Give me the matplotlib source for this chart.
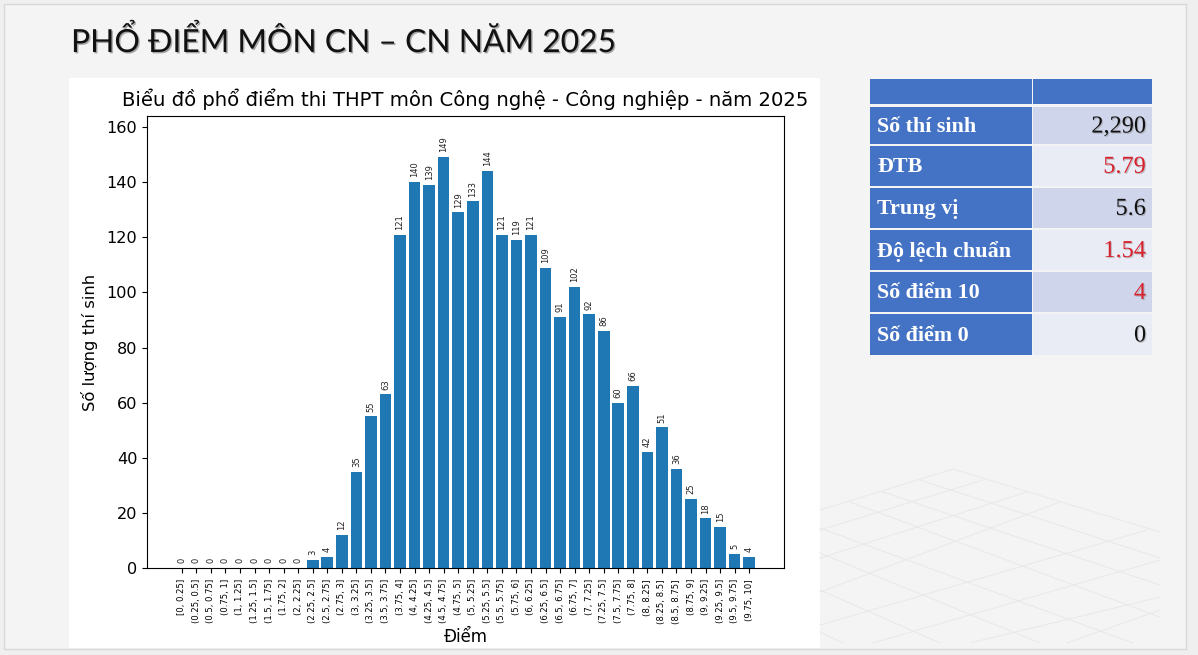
import matplotlib
matplotlib.use("Agg")
import matplotlib.pyplot as plt
import matplotlib.patheffects as pe
from matplotlib.patches import Rectangle

W, H = 1198, 655

bin_labels = ["[0, 0.25]", "(0.25, 0.5]", "(0.5, 0.75]", "(0.75, 1]", "(1, 1.25]", "(1.25, 1.5]",
              "(1.5, 1.75]", "(1.75, 2]", "(2, 2.25]", "(2.25, 2.5]", "(2.5, 2.75]", "(2.75, 3]",
              "(3, 3.25]", "(3.25, 3.5]", "(3.5, 3.75]", "(3.75, 4]", "(4, 4.25]", "(4.25, 4.5]",
              "(4.5, 4.75]", "(4.75, 5]", "(5, 5.25]", "(5.25, 5.5]", "(5.5, 5.75]", "(5.75, 6]",
              "(6, 6.25]", "(6.25, 6.5]", "(6.5, 6.75]", "(6.75, 7]", "(7, 7.25]", "(7.25, 7.5]",
              "(7.5, 7.75]", "(7.75, 8]", "(8, 8.25]", "(8.25, 8.5]", "(8.5, 8.75]", "(8.75, 9]",
              "(9, 9.25]", "(9.25, 9.5]", "(9.5, 9.75]", "(9.75, 10]"]
counts = [0, 0, 0, 0, 0, 0, 0, 0, 0, 3, 4, 12, 35, 55, 63, 121, 140, 139, 149, 129,
          133, 144, 121, 119, 121, 109, 91, 102, 92, 86, 60, 66, 42, 51, 36, 25, 18, 15, 5, 4]
stat_names = ["Số thí sinh", "ĐTB", "Trung vị", "Độ lệch chuẩn", "Số điểm 10", "Số điểm 0"]
stat_values = ["2,290", "5.79", "5.6", "1.54", "4", "0"]
stat_colors = ["#111111", "#d8202a", "#111111", "#d8202a", "#d8202a", "#111111"]

fig = plt.figure(figsize=(W / 100, H / 100), dpi=100, facecolor="#efefef")

# slide background, pixel coordinates with y going down
bg = fig.add_axes([0, 0, 1, 1], zorder=0)
bg.set_xlim(0, W)
bg.set_ylim(H, 0)
bg.axis("off")
bg.add_patch(Rectangle((4, 4), 1182, 645, fc="#f4f4f4", ec="#d8d8d8", lw=1))
bg.add_patch(Rectangle((69, 78), 751, 570, fc="white", ec="none"))

# faint perspective grid in the lower right corner
grid_lines = [((820, 510), (953, 469)), ((820, 530), (983, 480)), ((820, 558), (1027, 492)),
              ((820, 592), (1060, 502)), ((820, 625), (1147, 530)), ((873, 643), (1160, 560)),
              ((970, 643), (1160, 597)), ((1067, 643), (1160, 610)),
              ((953, 469), (1160, 532)), ((920, 480), (1160, 558)), ((883, 492), (1160, 585)),
              ((850, 502), (1160, 617)), ((820, 528), (1133, 643)), ((820, 553), (1040, 643)),
              ((820, 590), (940, 643)), ((820, 632), (843, 643))]
for p, q in grid_lines:
    bg.plot([p[0], q[0]], [p[1], q[1]], color="#e8e8e8", lw=0.7)

bg.text(71, 41, "PHỔ ĐIỂM MÔN CN – CN NĂM 2025", fontsize=22.9, family="Lato", color="#111111",
        va="center", ha="left",
        path_effects=[pe.withSimplePatchShadow(offset=(1, -1), shadow_rgbFace="#555555", alpha=0.5)])

# bar chart
ax = fig.add_axes([147 / W, 1 - 568 / H, 637 / W, 452 / H], zorder=2)
bars = ax.bar(bin_labels, counts, color="#1f77b4", width=0.8)
ax.bar_label(bars, rotation=90, fontsize=6, padding=3.5, color="#222222")
ax.set_ylim(0, 164)
ax.set_xlim(-2.39, 41.39)
ax.tick_params(axis="x", labelrotation=90, labelsize=6.1, pad=4.5)
ax.tick_params(axis="y", labelsize=11.6)
ax.set_title("Biểu đồ phổ điểm thi THPT môn Công nghệ - Công nghiệp - năm 2025", fontsize=14.1, pad=7)
ax.set_xlabel("Điểm", fontsize=12, labelpad=3.5)
ax.set_ylabel("Số lượng thí sinh", fontsize=11.8, labelpad=6)

# stats table
col_x = [870, 1033]
col_w = [162, 119]
bg.add_patch(Rectangle((col_x[0], 79), col_w[0], 24.5, fc="#4472c4", ec="none", zorder=3))
bg.add_patch(Rectangle((col_x[1], 79), col_w[1], 24.5, fc="#4472c4", ec="none", zorder=3))
row_top = [107, 145.5, 187.5, 230, 272, 314]
row_bottom = [144, 186, 228, 270, 312, 355]
row_fill = ["#cfd5ea", "#e9ebf5"]
for i, name in enumerate(stat_names):
    top, h = row_top[i], row_bottom[i] - row_top[i]
    mid = top + h / 2
    bg.add_patch(Rectangle((col_x[0], top), col_w[0], h, fc="#4472c4", ec="none", zorder=3))
    bg.add_patch(Rectangle((col_x[1], top), col_w[1], h, fc=row_fill[i % 2], ec="none", zorder=3))
    bg.text(877, mid + 1.5, name, family="Liberation Serif", weight="bold", fontsize=15.8, color="white",
            va="center", ha="left", zorder=4)
    bg.text(1146, mid + 1.5, stat_values[i], family="Liberation Serif", fontsize=17.5, color=stat_colors[i],
            va="center", ha="right", zorder=4,
            path_effects=[pe.withSimplePatchShadow(offset=(0.8, -0.8), shadow_rgbFace="#777777", alpha=0.4)])

fig.savefig("out.png", dpi=100, facecolor=fig.get_facecolor())
